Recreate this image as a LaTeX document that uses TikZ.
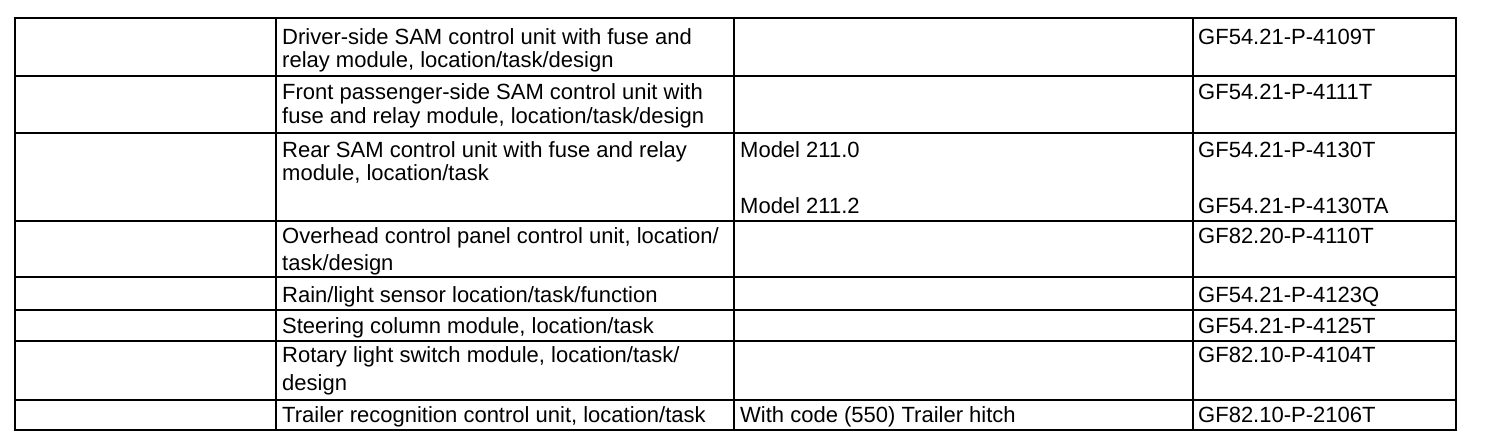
\documentclass[tikz,border=0pt]{standalone}
\usepackage{fontspec}
\setmainfont{Liberation Sans}
\usepackage{tikz}

\begin{document}
\begin{tikzpicture}[x=1pt, y=-1pt,
    rule/.style={line width=1.7pt},
    cell/.style={anchor=base west, inner sep=0pt, font=\fontsize{22}{24}\selectfont}]
    \useasboundingbox (0,0) rectangle (1504,446);
    % frame and columns
    \draw[rule] (15,18) rectangle (1456,430);
    \draw[rule] (276,18) -- (276,430);
    \draw[rule] (734,18) -- (734,430);
    \draw[rule] (1193,18) -- (1193,430);
    % rows
    \draw[rule] (15,76) -- (1456,76);
    \draw[rule] (15,133) -- (1456,133);
    \draw[rule] (15,221) -- (1456,221);
    \draw[rule] (15,277) -- (1456,277);
    \draw[rule] (15,310) -- (1456,310);
    \draw[rule] (15,341) -- (1456,341);
    \draw[rule] (15,400) -- (1456,400);
    % driver-side SAM
    \node[cell] (drvA) at (282,45) {Driver-side SAM control unit with fuse and};
    \node[cell] (drvB) at (282,68) {relay module, location/task/design};
    \node[cell] (drvDoc) at (1198,45) {GF54.21-P-4109T};
    % front passenger SAM
    \node[cell] (fpA) at (282,100) {Front passenger-side SAM control unit with};
    \node[cell] (fpB) at (282,124) {fuse and relay module, location/task/design};
    \node[cell] (fpDoc) at (1198,100) {GF54.21-P-4111T};
    % rear SAM
    \node[cell] (rearA) at (282,158) {Rear SAM control unit with fuse and relay};
    \node[cell] (rearB) at (282,181) {module, location/task};
    \node[cell] (rearModA) at (740,158) {Model 211.0};
    \node[cell] (rearModB) at (740,214) {Model 211.2};
    \node[cell] (rearDocA) at (1198,158) {GF54.21-P-4130T};
    \node[cell] (rearDocB) at (1198,214) {GF54.21-P-4130TA};
    % overhead control panel
    \node[cell] (ocpA) at (282,244) {Overhead control panel control unit, location/};
    \node[cell] (ocpB) at (282,271) {task/design};
    \node[cell] (ocpDoc) at (1198,244) {GF82.20-P-4110T};
    % rain/light sensor
    \node[cell] (rls) at (282,302) {Rain/light sensor location/task/function};
    \node[cell] (rlsDoc) at (1198,302) {GF54.21-P-4123Q};
    % steering column module
    \node[cell] (scm) at (282,333) {Steering column module, location/task};
    \node[cell] (scmDoc) at (1198,333) {GF54.21-P-4125T};
    % rotary light switch
    \node[cell] (rlsmA) at (282,362) {Rotary light switch module, location/task/};
    \node[cell] (rlsmB) at (282,390) {design};
    \node[cell] (rlsmDoc) at (1198,362) {GF82.10-P-4104T};
    % trailer recognition
    \node[cell] (trl) at (282,422) {Trailer recognition control unit, location/task};
    \node[cell] (trlCode) at (740,422) {With code (550) Trailer hitch};
    \node[cell] (trlDoc) at (1198,422) {GF82.10-P-2106T};
\end{tikzpicture}
\end{document}
